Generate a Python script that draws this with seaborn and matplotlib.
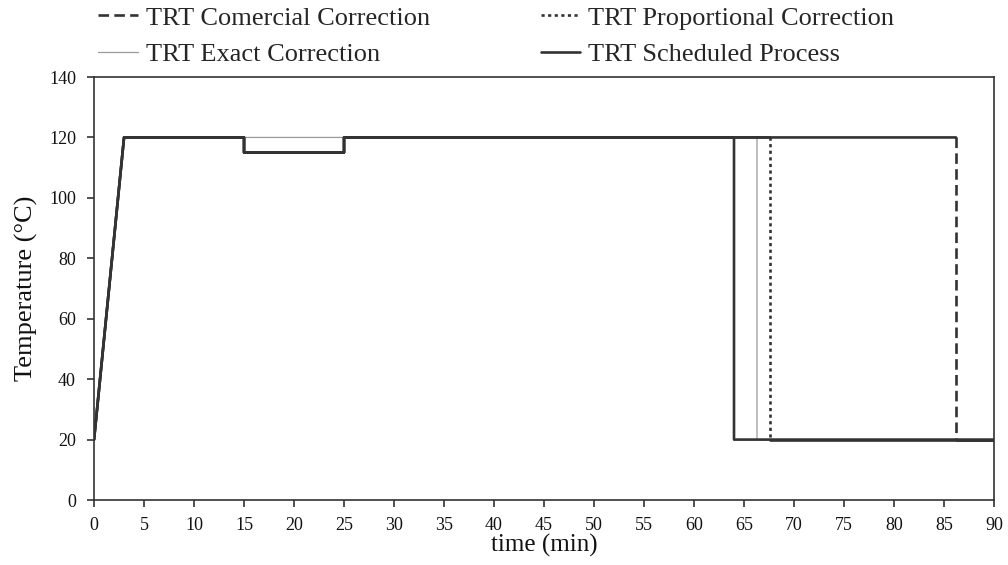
import matplotlib
matplotlib.use("Agg")
import matplotlib.pyplot as plt
import seaborn as sns
import pandas as pd

# Data (time in min, temperature in °C)
sched_t = [0, 3, 15, 15, 25, 25, 64, 64, 90]
sched_T = [20, 120, 120, 115, 115, 120, 120, 20, 20]

exact_t = [0, 3, 66.3, 66.3, 90]
exact_T = [20, 120, 120, 20, 20]

prop_t = [0, 3, 15, 15, 25, 25, 67.6, 67.6, 90]
prop_T = [20, 120, 120, 115, 115, 120, 120, 20, 20]

com_t = [0, 3, 15, 15, 25, 25, 86.2, 86.2, 90]
com_T = [20, 120, 120, 115, 115, 120, 120, 20, 20]

x_ticks = list(range(0, 95, 5))
y_ticks = list(range(0, 160, 20))

sns.set_theme(style="ticks")
plt.rcParams['font.family'] = ['Liberation Serif', 'DejaVu Serif']

fig = plt.figure(figsize=(10.08, 5.65), dpi=100)
ax = fig.add_axes([0.0933, 0.115, 0.8928, 0.7487])

dark = "#333333"
grey = "#999999"

def draw(t, T, style, label=None):
    df = pd.DataFrame({"time": t, "temp": T})
    sns.lineplot(data=df, x="time", y="temp", ax=ax, sort=False, estimator=None,
                 label=label, **style)
    return ax.get_lines()[-1]

LW = 1.9
solid_dark = dict(color=dark, lw=LW)
# exact correction underneath
h_exact = draw(exact_t, exact_T, dict(color=grey, lw=0.9), "TRT Exact Correction")
# corrections: plateau/tail rendered solid (overlapping segments), drop with own style
draw(com_t[:7], com_T[:7], solid_dark)
draw(com_t[7:], com_T[7:], solid_dark)
h_com = draw(com_t[6:8], com_T[6:8], dict(color=dark, lw=LW, dashes=(4, 2)),
             "TRT Comercial Correction")
draw(prop_t[:7], prop_T[:7], solid_dark)
draw(prop_t[7:], prop_T[7:], solid_dark)
h_prop = draw(prop_t[6:8], prop_T[6:8], dict(color=dark, lw=LW, dashes=(1.2, 1.3)),
              "TRT Proportional Correction")
h_sched = draw(sched_t, sched_T, solid_dark, "TRT Scheduled Process")

ax.set_xlim(0, 90)
ax.set_ylim(0, 140)
ax.set_xticks(x_ticks)
ax.set_yticks(y_ticks)
ax.tick_params(axis='both', labelsize=13, direction='out', length=5, width=1.2,
               color=dark, labelcolor="#111111")
ax.tick_params(axis='x', pad=7)
ax.tick_params(axis='y', pad=8)
for s in ax.spines.values():
    s.set_color(dark)
    s.set_linewidth(1.2)
ax.set_xlabel("time (min)", fontsize=18, labelpad=0, color="#111111")
ax.set_ylabel("Temperature (°C)", fontsize=19, labelpad=8, color="#111111")

# column-major order -> rows: Comercial/Proportional, Exact/Scheduled
hs = [h_com, h_exact, h_prop, h_sched]
labels = ["TRT Comercial Correction", "TRT Exact Correction",
          "TRT Proportional Correction", "TRT Scheduled Process"]
ax.legend(hs, labels, loc="upper left", bbox_to_anchor=(0.095, 0.994),
          bbox_transform=fig.transFigure, ncol=2, frameon=False, fontsize=19,
          handlelength=1.5, handletextpad=0.3, columnspacing=4.2, labelspacing=0.5,
          borderaxespad=0, borderpad=0.1)

fig.savefig("out.png", dpi=100)
